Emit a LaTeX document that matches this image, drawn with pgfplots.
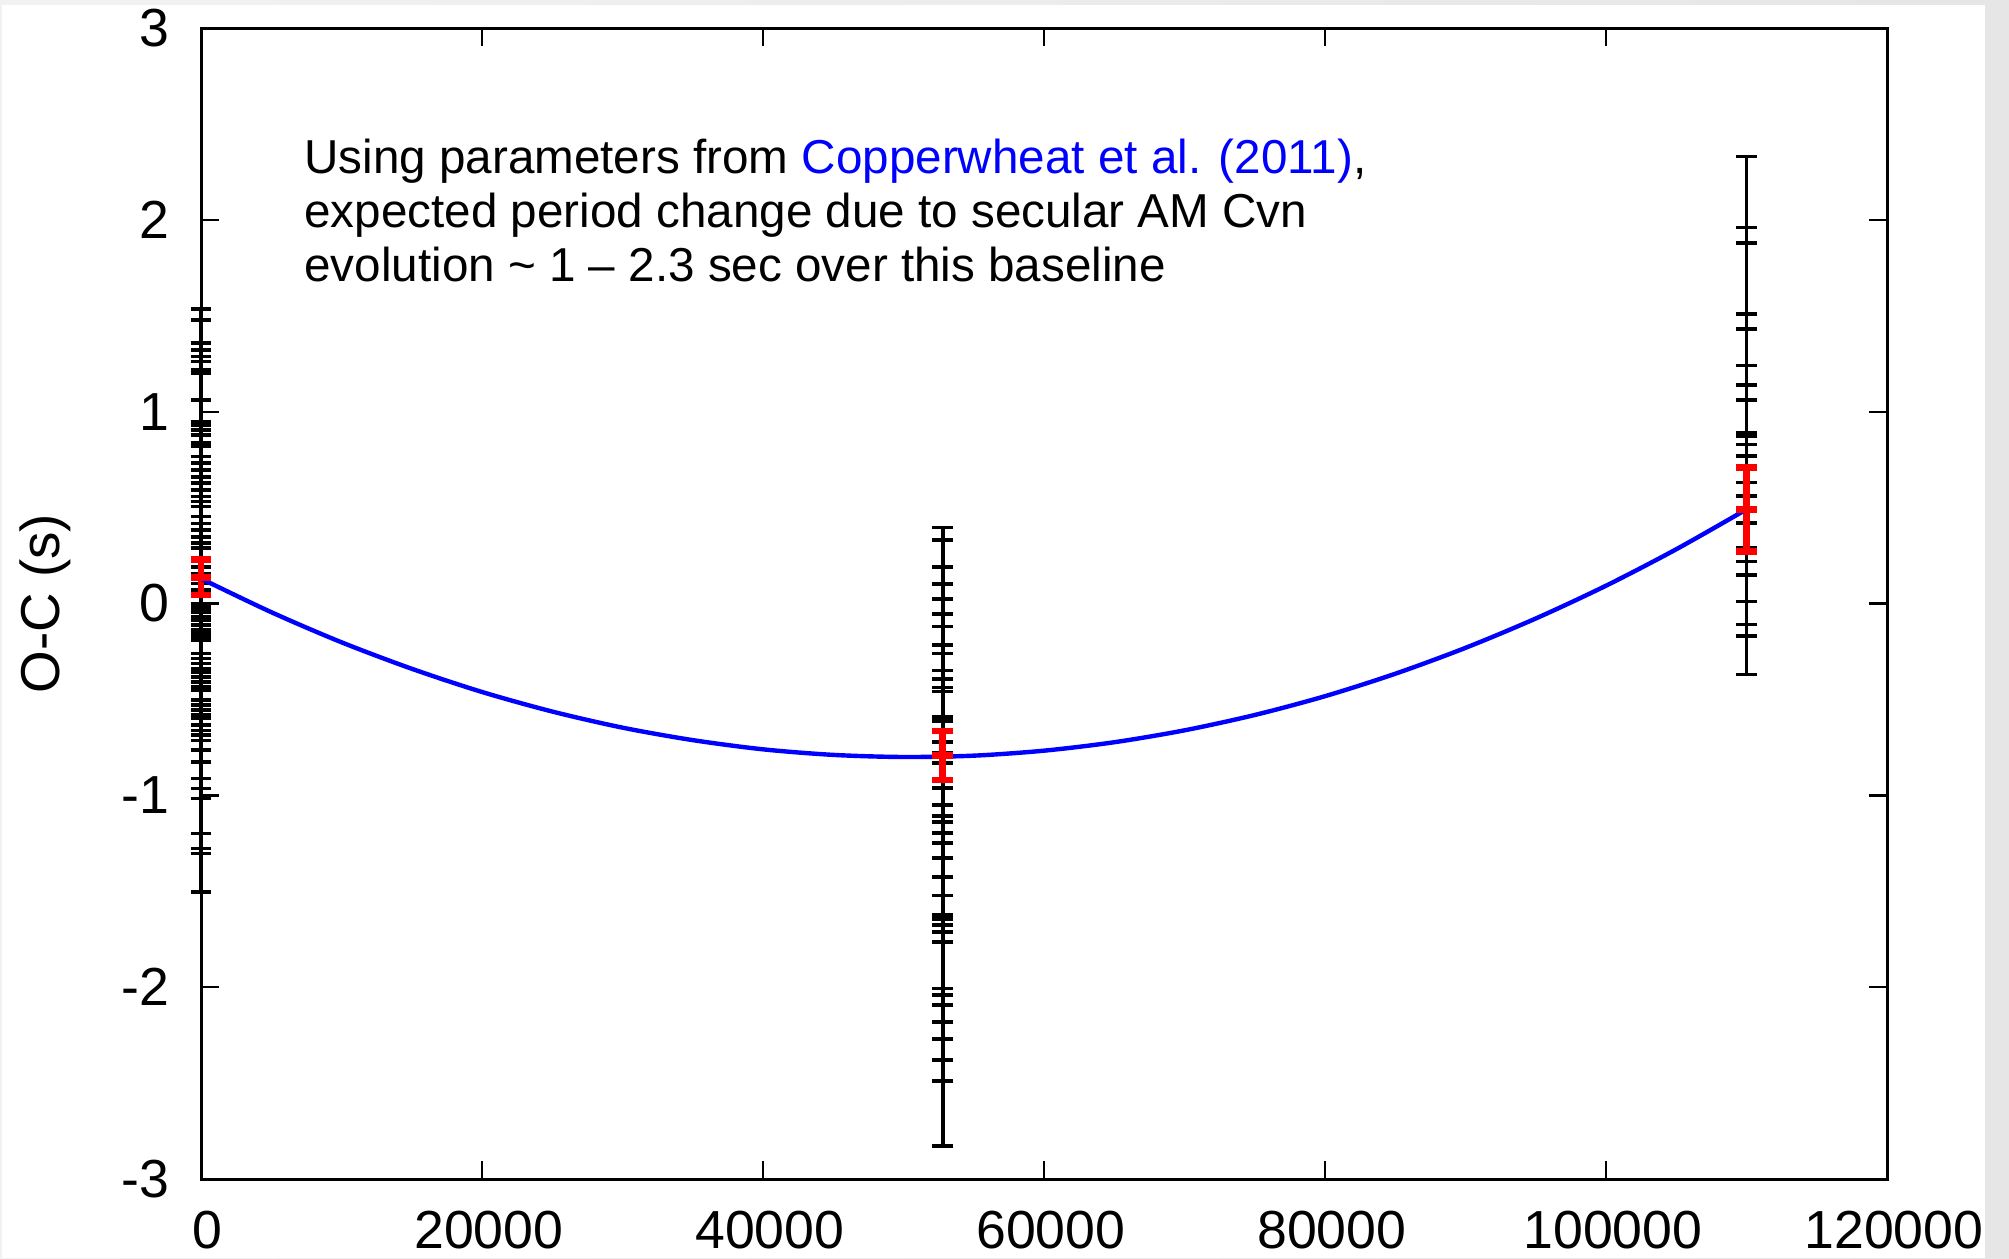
\documentclass[border=0pt]{standalone}
\usepackage{pgfplots}
\pgfplotsset{compat=1.18}
\usepackage{pgfplotstable}
\usepackage{fontspec}
\setmainfont{Liberation Sans}

% Individual O-C timings (s) per epoch: cycle number, O-C, 1-sigma error
\pgfplotstableread{
x y e
0 0.755 0.780
0 0.718 0.761
0 0.644 0.713
0 0.618 0.704
0 0.588 0.700
0 0.562 0.700
0 0.531 0.686
0 0.514 0.687
0 0.436 0.626
0 0.344 0.604
0 0.323 0.609
0 0.297 0.609
0 0.271 0.609
0 0.240 0.596
0 0.218 0.600
0 0.179 0.587
0 0.149 0.583
0 0.123 0.574
0 0.079 0.582
0 0.049 0.578
0 0.019 0.574
0 -0.012 0.569
0 -0.034 0.565
0 -0.064 0.569
0 -0.104 0.557
0 -0.134 0.552
0 -0.165 0.548
0 -0.208 0.556
0 -0.256 0.570
0 -0.312 0.600
0 -0.386 0.578
0 -0.430 0.587
0 -0.547 0.652
0 -0.603 0.673
0 -0.651 0.652
0 -0.760 0.743
}\epochA

\pgfplotstableread{
x y e
52800 -0.355 0.752
52800 -0.404 0.735
52800 -0.503 0.692
52800 -0.574 0.675
52800 -0.651 0.675
52800 -0.739 0.686
52800 -0.821 0.702
52800 -0.920 0.703
52800 -0.953 0.692
52800 -1.013 0.664
52800 -1.052 0.659
52800 -1.101 0.664
52800 -1.233 0.774
52800 -1.315 0.725
52800 -1.353 0.740
52800 -1.452 0.730
52800 -1.523 0.746
52800 -1.606 0.774
52800 -1.726 0.763
52800 -1.940 0.889
}\epochB

\pgfplotstableread{
x y e
110000 1.550 0.780
110000 1.295 0.665
110000 1.220 0.660
110000 0.965 0.545
110000 0.860 0.570
110000 0.730 0.510
110000 0.645 0.495
110000 0.535 0.525
110000 0.390 0.500
110000 0.350 0.520
110000 0.230 0.600
}\epochC

% Weighted mean O-C per epoch
\pgfplotstableread{
x y e
0 0.136 0.092
52800 -0.792 0.128
110000 0.490 0.219
}\means

% Quadratic ephemeris, tabulated
\pgfplotstableread{
x y
0 0.130
5000 -0.045
10000 -0.202
15000 -0.340
20000 -0.461
25000 -0.563
30000 -0.647
35000 -0.712
40000 -0.760
45000 -0.789
50000 -0.800
55000 -0.793
60000 -0.767
65000 -0.723
70000 -0.661
75000 -0.581
80000 -0.483
85000 -0.366
90000 -0.231
95000 -0.078
100000 0.093
105000 0.283
110000 0.491
}\ephem

\pgfplotsset{
  % error bars only, no symbol at the measured value
  timing/.style={only marks, mark=text, text mark={},
    error bars/.cd, y dir=both, y explicit,
    error bar style={black, line width=0.9pt},
    error mark options={rotate=90, black, line width=0.9pt, mark size=2.6pt}},
}

\begin{document}
\begin{tikzpicture}
\useasboundingbox (0,0) rectangle (502.25pt,314.5pt);
\shade[left color=black!5, right color=black!10] (0,0) rectangle (502.25pt,314.5pt);
\fill[white] (0.5pt,0) rectangle (496.3pt,313.25pt);
\begin{axis}[
  at={(50.25pt,19.75pt)}, anchor=south west,
  scale only axis, width=421.5pt, height=287.75pt,
  xmin=0, xmax=120000, ymin=-3, ymax=3,
  xtick={0,20000,40000,60000,80000,100000,120000},
  xticklabels={0,20000,40000,60000,80000,100000,120000},
  ytick={-3,-2,-1,0,1,2,3},
  yticklabels={-3,-2,-1,0,1,2,3},
  scaled ticks=false,
  minor tick num=0,
  tick align=inside, major tick length=4.5pt,
  tick style={black, line width=0.6pt},
  axis line style={black, line width=0.75pt},
  ticklabel style={font=\fontsize{13.4}{15}\selectfont},
  xticklabel style={yshift=-4.5pt, xshift=1.7pt},
  yticklabel style={xshift=-4.4pt},
  ylabel={O-C (s)},
  ylabel style={at={(axis description cs:-0.0925,0.5)}, anchor=center,
    font=\fontsize{13.7}{15}\selectfont},
  clip=false,
]
\addplot[timing] table[x=x, y=y, y error=e] {\epochA};
\addplot[timing] table[x=x, y=y, y error=e] {\epochB};
\addplot[timing] table[x=x, y=y, y error=e] {\epochC};
\addplot[only marks, mark=-, mark size=2.6pt,
  mark options={red, line width=1.7pt},
  error bars/.cd, y dir=both, y explicit,
  error bar style={red, line width=1.7pt},
  error mark options={rotate=90, red, line width=1.7pt, mark size=2.6pt}]
  table[x=x, y=y, y error=e] {\means};
\addplot[blue, line width=1.1pt, smooth] table[x=x, y=y] {\ephem};

\node[anchor=base west, inner sep=0, font=\fontsize{11.9}{13.5}\selectfont]
  at (axis cs:7310,2.241) {Using parameters from \textcolor{blue}{Copperwheat et al. (2011)},};
\node[anchor=base west, inner sep=0, font=\fontsize{11.9}{13.5}\selectfont]
  at (axis cs:7310,1.960) {expected period change due to secular AM Cvn};
\node[anchor=base west, inner sep=0, font=\fontsize{11.9}{13.5}\selectfont]
  at (axis cs:7310,1.680) {evolution \textasciitilde{} 1 -- 2.3 sec over this baseline};
\end{axis}
\end{tikzpicture}
\end{document}
